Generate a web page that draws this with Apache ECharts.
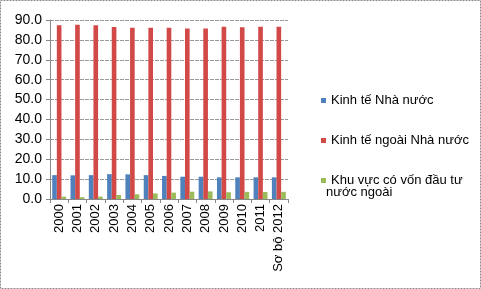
<!DOCTYPE html>
<html>
<head>
<meta charset="utf-8">
<script src="https://cdn.jsdelivr.net/npm/echarts@6/dist/echarts.min.js"></script>
<style>
  html, body { margin: 0; padding: 0; background: #fff; }
  #chart { width: 481px; height: 289px; }
</style>
</head>
<body>
<div id="chart"></div>
<script>
const years = ['2000', '2001', '2002', '2003', '2004', '2005', '2006', '2007', '2008', '2009', '2010', '2011', 'Sơ bộ 2012']
const stateVals = [12.0, 11.9, 12.0, 12.5, 12.4, 12.0, 11.6, 11.2, 11.2, 10.9, 10.9, 10.9, 10.9]
const nonStateVals = [87.4, 87.6, 87.4, 86.5, 86.1, 86.1, 86.1, 85.7, 85.7, 86.6, 86.4, 86.6, 86.6]
const fdiVals = [1.2, 0.9, 1.2, 2.0, 2.4, 2.8, 3.2, 3.7, 3.8, 3.4, 3.6, 3.5, 3.6]
const seriesNames = ['Kinh tế Nhà nước', 'Kinh tế ngoài Nhà nước', 'Khu vực có vốn đầu tư nước ngoài']

const font = 'Liberation Sans, Arial, sans-serif'
const myChart = echarts.init(document.getElementById('chart'))

const legendBase = (name, top) => ({
  orient: 'vertical',
  left: 316,
  top: top,
  icon: 'rect',
  itemWidth: 5,
  itemHeight: 5,
  itemGap: 0,
  data: [name],
  textStyle: { fontFamily: font, fontSize: 13, color: '#000' },
  formatter: (n) => n === seriesNames[2] ? 'Khu vực có vốn đầu tư' : n
})

const option = {
  animation: false,
  textStyle: { fontFamily: font },
  grid: { left: 50, right: 193, top: 20, bottom: 90 },
  legend: [
    legendBase(seriesNames[0], 89),
    legendBase(seriesNames[1], 129),
    legendBase(seriesNames[2], 169)
  ],
  graphic: [
    {
      type: 'rect',
      shape: { x: 0.5, y: 0.5, width: 480, height: 288 },
      style: { fill: 'none', stroke: '#8a8a8a', lineWidth: 1, lineDash: [2, 1] },
      silent: true
    },
    {
      type: 'text',
      left: 326,
      top: 186,
      style: { text: 'nước ngoài', fontFamily: font, fontSize: 13, fill: '#000' }
    }
  ],
  xAxis: {
    type: 'category',
    data: years,
    axisLine: { lineStyle: { color: '#888' } },
    axisTick: { show: true, length: 4, lineStyle: { color: '#888' } },
    axisLabel: { rotate: 90, margin: 5, fontSize: 13, color: '#000', fontFamily: font, interval: 0 }
  },
  yAxis: {
    type: 'value',
    min: 0,
    max: 90,
    interval: 10,
    axisLine: { show: true, lineStyle: { color: '#888' } },
    axisTick: { show: true, length: 4, lineStyle: { color: '#888' } },
    axisLabel: { fontSize: 14, color: '#000', fontFamily: font, margin: 8, formatter: (v) => v.toFixed(1) },
    splitLine: { lineStyle: { color: '#9a9a9a', type: [4, 1] } }
  },
  series: [
    { name: seriesNames[0], type: 'bar', data: stateVals, barGap: '0%', barCategoryGap: '24%', itemStyle: { color: '#4f81bd' } },
    { name: seriesNames[1], type: 'bar', data: nonStateVals, itemStyle: { color: '#d14a48' } },
    { name: seriesNames[2], type: 'bar', data: fdiVals, itemStyle: { color: '#9bbb59' } }
  ]
}
myChart.setOption(option)
</script>
</body>
</html>
